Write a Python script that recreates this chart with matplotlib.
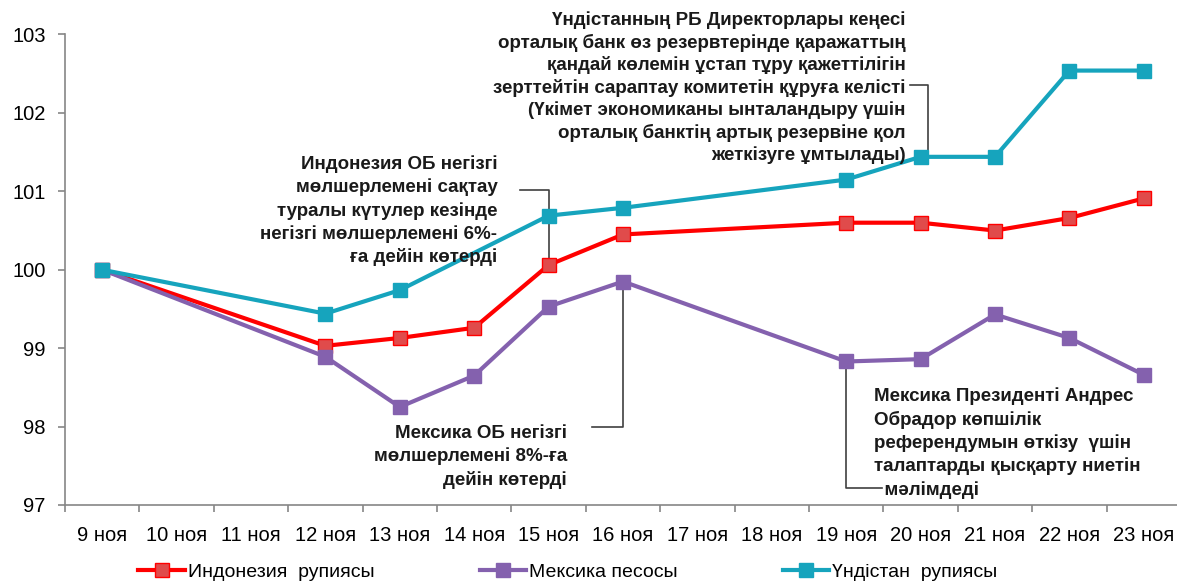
import numpy as np
import matplotlib
matplotlib.use("Agg")
import matplotlib.pyplot as plt

plt.rcParams['font.family'] = ['Liberation Sans', 'DejaVu Sans']

# данные
dates = ["9 ноя", "10 ноя", "11 ноя", "12 ноя", "13 ноя", "14 ноя", "15 ноя", "16 ноя",
         "17 ноя", "18 ноя", "19 ноя", "20 ноя", "21 ноя", "22 ноя", "23 ноя"]
idr = [100.0, None, None, 99.03, 99.13, 99.26, 100.06, 100.45,
       None, None, 100.60, 100.60, 100.50, 100.66, 100.91]
mxn = [100.0, None, None, 98.89, 98.25, 98.65, 99.53, 99.85,
       None, None, 98.83, 98.86, 99.43, 99.13, 98.66]
inr = [100.0, None, None, 99.44, 99.74, None, 100.69, 100.79,
       None, None, 101.15, 101.44, 101.44, 102.54, 102.54]
names = ["Индонезия  рупиясы", "Мексика песосы", "Үндістан  рупиясы"]

fig = plt.figure(figsize=(11.77, 5.83), dpi=100)
ax = fig.add_axes([65/1177, 1-505/583, 1116/1177, 470.5/583])

def pts(vals):
    xs = [i for i, v in enumerate(vals) if v is not None]
    ys = [v for v in vals if v is not None]
    return xs, ys

styles = [("#FF0000", "#E04B4B"), ("#8461AE", "#8461AE"), ("#16A4BD", "#16A4BD")]
for vals, name, (c, fc) in zip([idr, mxn, inr], names, styles):
    xs, ys = pts(vals)
    ax.plot(xs, ys, color=c, lw=3, marker='s', ms=9.5, mfc=fc, mec=c, mew=1,
            label=name, zorder=3)

ax.set_xlim(-0.5, len(dates) - 0.5)
ax.set_ylim(97, 103)
ax.set_yticks(range(97, 104))
ax.set_xticks(range(len(dates)))
ax.set_xticklabels(dates)
ax.set_xticks(np.arange(-0.5, len(dates) + 0.5, 1), minor=True)
ax.tick_params(axis='x', which='major', length=0, pad=15, labelsize=14.5)
ax.tick_params(axis='x', which='minor', length=5, color='#868686', width=1.2)
ax.tick_params(axis='y', length=5, color='#868686', width=1.2, pad=9, labelsize=14.5)
for s in ['top', 'right']:
    ax.spines[s].set_visible(False)
for s in ['left', 'bottom']:
    ax.spines[s].set_color('#868686')
    ax.spines[s].set_linewidth(1.2)

bold = dict(fontsize=13.5, fontweight='bold', color='#1a1a1a', linespacing=1.4, zorder=4)
con = dict(color='#404040', lw=1.2, zorder=2)

# Индонезия
ax.text(5.31, 100.75, "Индонезия ОБ негізгі\nмөлшерлемені сақтау\nтуралы күтулер кезінде\n"
        "негізгі мөлшерлемені 6%-\nға дейін көтерді", ha='right', va='center',
        multialignment='right', **bold)
ax.plot([5.62, 6, 6], [101.02, 101.02, idr[6]], **con)

# Үндістан
ax.text(10.80, 102.32, "Үндістанның РБ Директорлары кеңесі\nорталық банк өз резервтерінде қаражаттың\n"
        "қандай көлемін ұстап тұру қажеттілігін\nзерттейтін сараптау комитетін құруға келісті\n"
        "(Үкімет экономиканы ынталандыру үшін\nорталық банктің артық резервіне қол\n"
        "жеткізуге ұмтылады)", ha='right', va='center', multialignment='right',
        fontsize=13.5, fontweight='bold', color='#1a1a1a', linespacing=1.33, zorder=4)
ax.plot([10.86, 11.1, 11.1], [102.35, 102.35, inr[11]], **con)

# Мексика ОБ
ax.text(6.25, 97.61, "Мексика ОБ негізгі\nмөлшерлемені 8%-ға\nдейін көтерді",
        ha='right', va='center', multialignment='right', **bold)
ax.plot([6.58, 7, 7], [98.0, 98.0, mxn[7]], **con)

# Мексика Президенті
ax.text(10.37, 97.79, "Мексика Президенті Андрес\nОбрадор көпшілік\nреферендумын өткізу  үшін\n"
        "талаптарды қысқарту ниетін\n  мәлімдеді", ha='left', va='center',
        multialignment='left', **bold)
ax.plot([10, 10, 10.48], [mxn[10], 97.22, 97.22], **con)

fig.legend(loc='center', bbox_to_anchor=(568/1177, 1-572/583), ncol=3, frameon=False,
           fontsize=14, handlelength=2.4, handletextpad=0.15, columnspacing=5.4)

fig.savefig("out.png", dpi=100)
